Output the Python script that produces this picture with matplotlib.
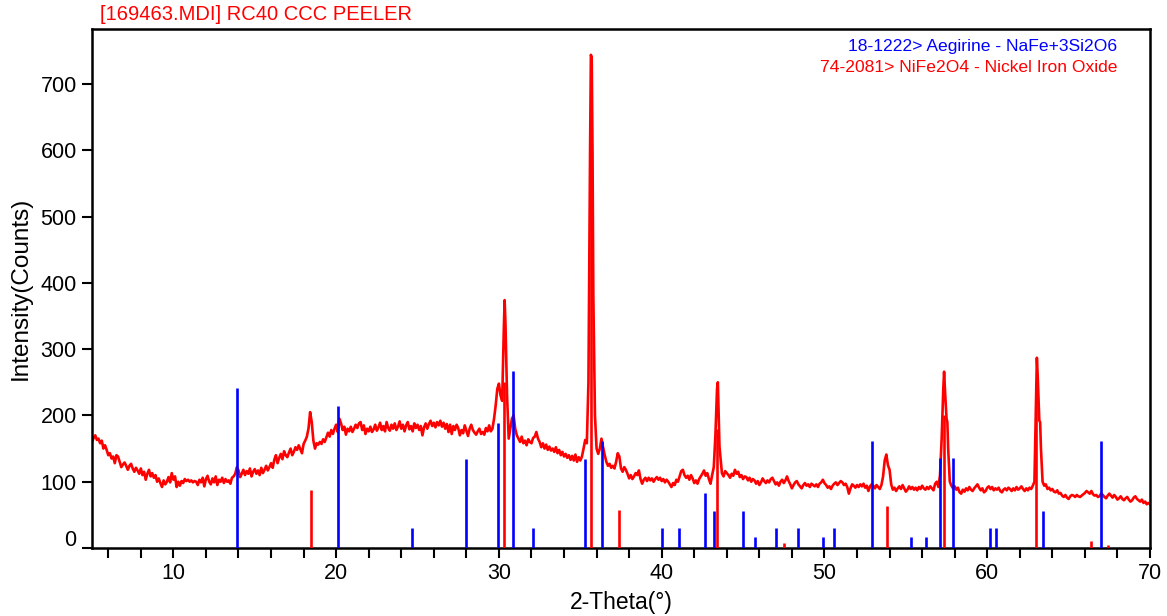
import matplotlib
matplotlib.use("Agg")
import matplotlib.pyplot as plt
from matplotlib.transforms import ScaledTranslation

plt.rcParams['font.family'] = ['Liberation Sans', 'DejaVu Sans']

title_text = "[169463.MDI] RC40 CCC PEELER"
x_label = "2-Theta(°)"
y_label = "Intensity(Counts)"
ref1_label = "18-1222> Aegirine - NaFe+3Si2O6"
ref2_label = "74-2081> NiFe2O4 - Nickel Iron Oxide"

# measured scan: (2-theta, counts)
scan = [
    (5.0, 160), (5.1, 166), (5.2, 170), (5.3, 163), (5.4, 165), (5.5, 158), (5.6, 162), (5.7, 150), (5.8, 155), (5.9, 148),
    (6.0, 140), (6.1, 143), (6.2, 135), (6.3, 138), (6.4, 128), (6.5, 140), (6.6, 138), (6.7, 130), (6.8, 122), (6.9, 126),
    (7.0, 129), (7.1, 124), (7.2, 118), (7.3, 124), (7.4, 127), (7.5, 120), (7.6, 115), (7.7, 121), (7.8, 117), (7.9, 112),
    (8.0, 120), (8.1, 110), (8.2, 115), (8.3, 103), (8.4, 112), (8.5, 118), (8.6, 108), (8.7, 113), (8.8, 106), (8.9, 110),
    (9.0, 100), (9.1, 105), (9.2, 98), (9.3, 92), (9.4, 102), (9.5, 96), (9.6, 100), (9.7, 107), (9.8, 99), (9.9, 113),
    (10.0, 103), (10.1, 108), (10.2, 92), (10.3, 100), (10.4, 94), (10.5, 101), (10.6, 98), (10.7, 104), (10.8, 101), (10.9, 103),
    (11.0, 100), (11.1, 102), (11.2, 99), (11.3, 101), (11.4, 100), (11.5, 95), (11.6, 103), (11.7, 99), (11.8, 106), (11.9, 93),
    (12.0, 104), (12.1, 109), (12.2, 100), (12.3, 96), (12.4, 105), (12.5, 99), (12.6, 108), (12.7, 95), (12.8, 103), (12.9, 100),
    (13.0, 106), (13.1, 98), (13.2, 104), (13.3, 100), (13.4, 102), (13.5, 97), (13.6, 106), (13.7, 108), (13.8, 112), (13.9, 122),
    (14.0, 117), (14.1, 107), (14.2, 112), (14.3, 118), (14.4, 110), (14.5, 116), (14.6, 112), (14.7, 120), (14.8, 108), (14.9, 115),
    (15.0, 119), (15.1, 112), (15.2, 117), (15.3, 110), (15.4, 121), (15.5, 113), (15.6, 118), (15.7, 124), (15.8, 117), (15.9, 122),
    (16.0, 128), (16.1, 121), (16.2, 133), (16.3, 140), (16.4, 128), (16.5, 136), (16.6, 142), (16.7, 134), (16.8, 146), (16.9, 140),
    (17.0, 137), (17.1, 144), (17.2, 150), (17.3, 140), (17.4, 145), (17.5, 152), (17.6, 148), (17.7, 155), (17.8, 149), (17.9, 143),
    (18.0, 157), (18.1, 162), (18.2, 168), (18.3, 180), (18.4, 205), (18.5, 190), (18.6, 162), (18.7, 150), (18.8, 158), (18.9, 156),
    (19.0, 160), (19.1, 157), (19.2, 164), (19.3, 160), (19.4, 167), (19.5, 174), (19.6, 168), (19.7, 178), (19.8, 172), (19.9, 180),
    (20.0, 186), (20.1, 175), (20.2, 195), (20.3, 188), (20.4, 178), (20.5, 183), (20.6, 171), (20.7, 180), (20.8, 176), (20.9, 183),
    (21.0, 175), (21.1, 180), (21.2, 186), (21.3, 181), (21.4, 188), (21.5, 190), (21.6, 178), (21.7, 185), (21.8, 172), (21.9, 180),
    (22.0, 176), (22.1, 183), (22.2, 175), (22.3, 179), (22.4, 186), (22.5, 177), (22.6, 182), (22.7, 189), (22.8, 178), (22.9, 184),
    (23.0, 176), (23.1, 190), (23.2, 181), (23.3, 177), (23.4, 186), (23.5, 180), (23.6, 188), (23.7, 178), (23.8, 183), (23.9, 191),
    (24.0, 180), (24.1, 186), (24.2, 176), (24.3, 185), (24.4, 190), (24.5, 179), (24.6, 184), (24.7, 176), (24.8, 188), (24.9, 181),
    (25.0, 186), (25.1, 178), (25.2, 184), (25.3, 170), (25.4, 182), (25.5, 188), (25.6, 180), (25.7, 187), (25.8, 192), (25.9, 184),
    (26.0, 189), (26.1, 182), (26.2, 190), (26.3, 185), (26.4, 192), (26.5, 183), (26.6, 189), (26.7, 180), (26.8, 187), (26.9, 175),
    (27.0, 186), (27.1, 172), (27.2, 184), (27.3, 178), (27.4, 186), (27.5, 181), (27.6, 170), (27.7, 178), (27.8, 173), (27.9, 185),
    (28.0, 177), (28.1, 169), (28.2, 180), (28.3, 186), (28.4, 178), (28.5, 174), (28.6, 171), (28.7, 176), (28.8, 180), (28.9, 172),
    (29.0, 175), (29.1, 171), (29.2, 181), (29.3, 176), (29.4, 185), (29.5, 176), (29.6, 180), (29.7, 195), (29.8, 215), (29.9, 240),
    (30.0, 248), (30.1, 230), (30.2, 222), (30.3, 330), (30.35, 374), (30.4, 340), (30.5, 230), (30.6, 165), (30.7, 180), (30.8, 195),
    (30.9, 200), (31.0, 180), (31.1, 170), (31.2, 165), (31.3, 160), (31.4, 168), (31.5, 158), (31.6, 162), (31.7, 155), (31.8, 164),
    (31.9, 160), (32.0, 158), (32.1, 166), (32.2, 168), (32.3, 175), (32.4, 165), (32.5, 160), (32.6, 152), (32.7, 158), (32.8, 150),
    (32.9, 156), (33.0, 148), (33.1, 153), (33.2, 147), (33.3, 150), (33.4, 145), (33.5, 152), (33.6, 143), (33.7, 148), (33.8, 140),
    (33.9, 145), (34.0, 138), (34.1, 142), (34.2, 136), (34.3, 140), (34.4, 133), (34.5, 139), (34.6, 132), (34.7, 141), (34.8, 130),
    (34.9, 137), (35.0, 132), (35.1, 138), (35.2, 150), (35.3, 163), (35.4, 158), (35.5, 250), (35.6, 600), (35.65, 744), (35.7, 740),
    (35.75, 600), (35.8, 380), (35.9, 200), (36.0, 150), (36.1, 142), (36.2, 150), (36.3, 165), (36.4, 152), (36.5, 140), (36.6, 130),
    (36.7, 124), (36.8, 127), (36.9, 121), (37.0, 124), (37.1, 120), (37.2, 130), (37.3, 143), (37.4, 138), (37.5, 120), (37.6, 115),
    (37.7, 122), (37.8, 118), (37.9, 112), (38.0, 105), (38.1, 110), (38.2, 104), (38.3, 108), (38.4, 113), (38.5, 110), (38.6, 117),
    (38.7, 104), (38.8, 97), (38.9, 103), (39.0, 106), (39.1, 101), (39.2, 106), (39.3, 102), (39.4, 105), (39.5, 100), (39.6, 104),
    (39.7, 107), (39.8, 103), (39.9, 106), (40.0, 101), (40.1, 104), (40.2, 99), (40.3, 103), (40.4, 100), (40.5, 96), (40.6, 92),
    (40.7, 98), (40.8, 95), (40.9, 103), (41.0, 100), (41.1, 108), (41.2, 116), (41.3, 118), (41.4, 110), (41.5, 106), (41.6, 109),
    (41.7, 103), (41.8, 110), (41.9, 105), (42.0, 98), (42.1, 102), (42.2, 97), (42.3, 104), (42.4, 108), (42.5, 112), (42.6, 117),
    (42.7, 109), (42.8, 113), (42.9, 104), (43.0, 97), (43.1, 110), (43.2, 122), (43.3, 170), (43.4, 240), (43.45, 250), (43.5, 200),
    (43.55, 153), (43.6, 140), (43.7, 113), (43.8, 108), (43.9, 116), (44.0, 113), (44.1, 110), (44.2, 106), (44.3, 112), (44.4, 109),
    (44.5, 118), (44.6, 112), (44.7, 115), (44.8, 107), (44.9, 110), (45.0, 104), (45.1, 108), (45.2, 107), (45.3, 102), (45.4, 106),
    (45.5, 100), (45.6, 104), (45.7, 102), (45.8, 97), (45.9, 101), (46.0, 95), (46.1, 99), (46.2, 105), (46.3, 101), (46.4, 98),
    (46.5, 102), (46.6, 99), (46.7, 104), (46.8, 106), (46.9, 101), (47.0, 96), (47.1, 99), (47.2, 94), (47.3, 100), (47.4, 103),
    (47.5, 98), (47.6, 102), (47.7, 108), (47.8, 101), (47.9, 96), (48.0, 90), (48.1, 95), (48.2, 99), (48.3, 101), (48.4, 96),
    (48.5, 93), (48.6, 90), (48.7, 95), (48.8, 98), (48.9, 94), (49.0, 96), (49.1, 92), (49.2, 97), (49.3, 95), (49.4, 93),
    (49.5, 96), (49.6, 92), (49.7, 97), (49.8, 99), (49.9, 103), (50.0, 98), (50.1, 95), (50.2, 91), (50.3, 93), (50.4, 89),
    (50.5, 94), (50.6, 97), (50.7, 99), (50.8, 95), (50.9, 98), (51.0, 101), (51.1, 99), (51.2, 95), (51.3, 97), (51.4, 92),
    (51.5, 82), (51.6, 90), (51.7, 96), (51.8, 94), (51.9, 91), (52.0, 95), (52.1, 92), (52.2, 96), (52.3, 93), (52.4, 97),
    (52.5, 91), (52.6, 94), (52.7, 86), (52.8, 93), (52.9, 96), (53.0, 94), (53.1, 90), (53.2, 95), (53.3, 92), (53.4, 89),
    (53.5, 95), (53.6, 108), (53.7, 132), (53.8, 141), (53.9, 125), (54.0, 118), (54.1, 96), (54.2, 88), (54.3, 91), (54.4, 86),
    (54.5, 90), (54.6, 93), (54.7, 89), (54.8, 95), (54.9, 90), (55.0, 85), (55.1, 88), (55.2, 93), (55.3, 89), (55.4, 92),
    (55.5, 88), (55.6, 91), (55.7, 87), (55.8, 92), (55.9, 89), (56.0, 94), (56.1, 90), (56.2, 88), (56.3, 92), (56.4, 89),
    (56.5, 93), (56.6, 90), (56.7, 87), (56.8, 97), (56.9, 100), (57.0, 92), (57.1, 110), (57.2, 165), (57.3, 240), (57.35, 266),
    (57.4, 240), (57.5, 195), (57.55, 190), (57.6, 150), (57.7, 100), (57.8, 94), (57.9, 90), (58.0, 93), (58.1, 88), (58.2, 91),
    (58.3, 84), (58.4, 82), (58.5, 88), (58.6, 85), (58.7, 90), (58.8, 87), (58.9, 92), (59.0, 88), (59.1, 86), (59.2, 90),
    (59.3, 93), (59.4, 96), (59.5, 91), (59.6, 87), (59.7, 90), (59.8, 84), (59.9, 86), (60.0, 91), (60.1, 93), (60.2, 89),
    (60.3, 92), (60.4, 87), (60.5, 90), (60.6, 88), (60.7, 91), (60.8, 86), (60.9, 84), (61.0, 88), (61.1, 90), (61.2, 87),
    (61.3, 91), (61.4, 89), (61.5, 86), (61.6, 90), (61.7, 87), (61.8, 92), (61.9, 88), (62.0, 90), (62.1, 93), (62.2, 89),
    (62.3, 86), (62.4, 90), (62.5, 87), (62.6, 91), (62.7, 89), (62.8, 94), (62.9, 100), (63.0, 220), (63.05, 287), (63.1, 260),
    (63.2, 192), (63.25, 190), (63.3, 150), (63.4, 100), (63.5, 94), (63.6, 96), (63.7, 89), (63.8, 91), (63.9, 87), (64.0, 89),
    (64.1, 85), (64.2, 84), (64.3, 87), (64.4, 82), (64.5, 83), (64.6, 79), (64.7, 77), (64.8, 80), (64.9, 76), (65.0, 74),
    (65.1, 78), (65.2, 80), (65.3, 79), (65.4, 77), (65.5, 80), (65.6, 78), (65.7, 77), (65.8, 79), (65.9, 81), (66.0, 83),
    (66.1, 86), (66.2, 84), (66.3, 82), (66.4, 86), (66.5, 81), (66.6, 79), (66.7, 80), (66.8, 77), (66.9, 78), (67.0, 82),
    (67.1, 80), (67.2, 77), (67.3, 75), (67.4, 79), (67.5, 82), (67.6, 79), (67.7, 76), (67.8, 80), (67.9, 77), (68.0, 73),
    (68.1, 75), (68.2, 78), (68.3, 74), (68.4, 72), (68.5, 75), (68.6, 77), (68.7, 73), (68.8, 70), (68.9, 72), (69.0, 76),
    (69.1, 78), (69.2, 74), (69.3, 72), (69.4, 70), (69.5, 73), (69.6, 68), (69.7, 70), (69.8, 66), (69.9, 68), (70.0, 66),
]
scan_2theta = [p[0] for p in scan]
scan_counts = [p[1] for p in scan]

# reference stick patterns
aegirine_2theta = [13.92, 20.13, 24.63, 27.98, 29.95, 30.88, 32.08, 35.28, 36.35, 40.0, 41.05, 42.65, 43.2,
                   45.0, 45.75, 47.0, 48.4, 49.9, 50.6, 52.95, 55.3, 56.25, 57.1, 57.9, 60.2, 60.55, 63.4, 67.0]
aegirine_counts = [241, 214, 30, 135, 188, 267, 30, 135, 161, 30, 30, 83, 56,
                   56, 16, 30, 30, 16, 30, 161, 16, 16, 136, 136, 30, 30, 56, 161]
nife2o4_2theta = [18.45, 30.32, 35.68, 37.35, 43.4, 47.5, 53.85, 57.35, 63.0, 66.4, 67.4]
nife2o4_counts = [87, 250, 600, 57, 180, 8, 63, 200, 250, 10, 5]

RED = "#ff0000"
BLUE = "#0000ff"

fig = plt.figure(figsize=(11.67, 6.16), dpi=100)
ax = fig.add_axes([92 / 1167, 1 - 548 / 616, (1150 - 92) / 1167, (548 - 29) / 616])

ax.plot(scan_2theta, scan_counts, color=RED, lw=1.9, zorder=2)
ax.vlines(nife2o4_2theta, 0, nife2o4_counts, color=RED, lw=1.9, zorder=3)
ax.vlines(aegirine_2theta, 0, aegirine_counts, color=BLUE, lw=1.9, zorder=4)

ax.set_xlim(5, 70)
ax.set_ylim(0, 783)
ax.set_xticks(range(6, 71, 2))
ax.set_xticklabels([str(v) if v % 10 == 0 else "" for v in range(6, 71, 2)])
ax.set_yticks(range(0, 701, 100))
ax.tick_params(axis='both', direction='out', length=7, width=1.5, colors='black', labelsize=15.5, pad=4)

for sp in ax.spines.values():
    sp.set_linewidth(1.8)
    sp.set_color('black')

# raise the "0" label a bit like the original
lbl0 = ax.get_yticklabels()[0]
lbl0.set_transform(lbl0.get_transform() + ScaledTranslation(0, 7 / 72, fig.dpi_scale_trans))

ax.set_xlabel(x_label, fontsize=16.5, labelpad=5)
ax.set_ylabel(y_label, fontsize=17.5, labelpad=6)

fig.text(100 / 1167, 1 - 15 / 616, title_text, color=RED, fontsize=14.5, ha='left', va='center')
ax.text(0.969, 0.967, ref1_label, color=BLUE, fontsize=12.6, ha='right', va='center', transform=ax.transAxes)
ax.text(0.969, 0.925, ref2_label, color=RED, fontsize=12.6, ha='right', va='center', transform=ax.transAxes)

fig.savefig("out.png", dpi=100)
